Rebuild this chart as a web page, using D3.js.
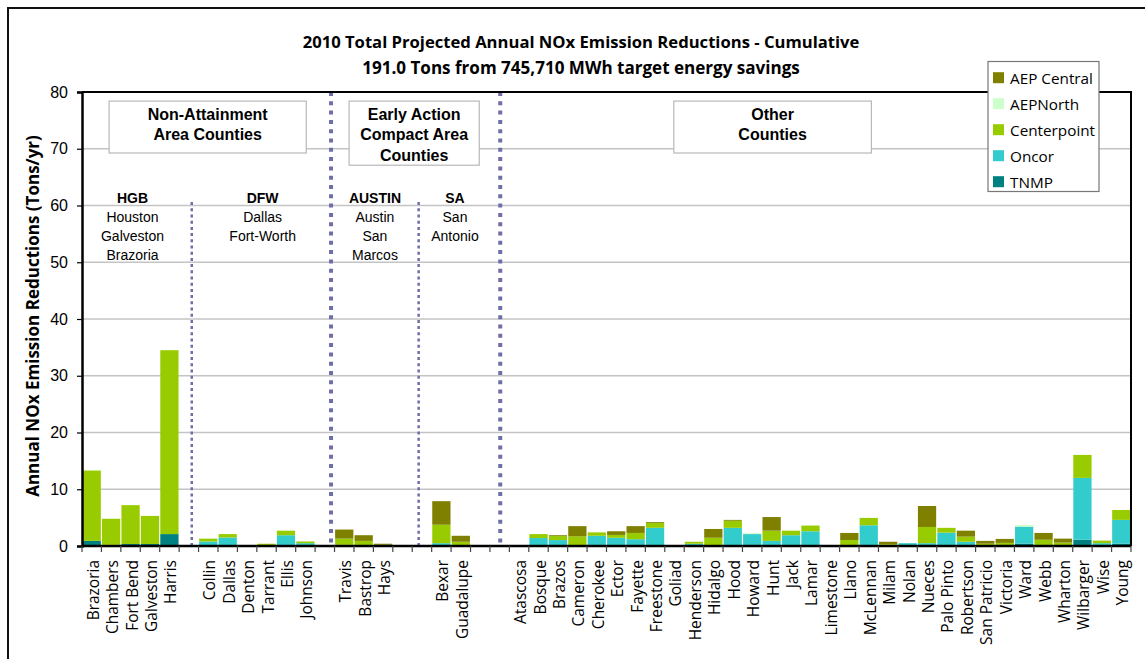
<!DOCTYPE html>
<html><head><meta charset="utf-8">
<script src="https://cdn.jsdelivr.net/npm/d3@7"></script>
<style>body{margin:0;background:#fff}svg{display:block}</style>
</head><body>
<svg id="c" width="1145" height="659"></svg>
<script>
// ---------- DATA ----------
const categories = ["Brazoria","Chambers","Fort Bend","Galveston","Harris","",
  "Collin","Dallas","Denton","Tarrant","Ellis","Johnson","",
  "Travis","Bastrop","Hays","","",
  "Bexar","Guadalupe","","",
  "Atascosa","Bosque","Brazos","Cameron","Cherokee","Ector","Fayette","Freestone","Goliad","Henderson",
  "Hidalgo","Hood","Howard","Hunt","Jack","Lamar","Limestone","Llano","McLennan","Milam",
  "Nolan","Nueces","Palo Pinto","Robertson","San Patricio","Victoria","Ward","Webb","Wharton","Wilbarger",
  "Wise","Young"];
const seriesNames = ["TNMP","Oncor","Centerpoint","AEPNorth","AEP Central"];
const legendOrder = ["AEP Central","AEPNorth","Centerpoint","Oncor","TNMP"];
const seriesColors = {"AEP Central":"#808000","AEPNorth":"#ccffcc","Centerpoint":"#99cc00","Oncor":"#33cccc","TNMP":"#008080"};

const tnmp = [0.9,0.2,0.35,0.35,2.1,0, 0,0,0,0,0,0,0, 0,0,0,0,0, 0,0,0,0,
  0,0,0,0,0,0,0,0,0,0, 0,0,0,0,0,0,0,0,0,0, 0,0,0,0,0,0,0.4,0,0,1.1, 0,0.4];
const oncor = [0,0,0,0,0,0, 0.8,1.5,0.1,0.1,1.9,0.5,0, 0.2,0,0,0,0, 0.5,0,0,0,
  0,1.4,1.05,0.1,1.8,1.45,1.2,3.2,0,0.4, 0.05,3.2,2.1,0.9,1.9,2.6,0,0.1,3.65,0,
  0.5,0.5,2.35,0.75,0,0,3.0,0.1,0,10.9, 0.5,4.2];
const centerpoint = [12.4,4.6,6.85,4.95,32.4,0, 0.5,0.6,0,0.3,0.8,0.3,0, 1.1,0.9,0.2,0,0, 3.25,0.75,0,0,
  0,0.7,0.7,1.6,0.6,0.5,1.1,0.85,0,0.35, 1.4,1.25,0,1.8,0.8,1.0,0,0.95,1.3,0.3,
  0,2.85,0.85,0.9,0.4,0.55,0,1.0,0.6,4.05, 0.45,1.75];
const aepNorth = [0,0,0,0,0,0, 0,0,0,0,0,0,0, 0,0,0,0,0, 0,0,0,0,
  0,0,0,0,0,0,0,0,0,0, 0,0,0.15,0,0,0,0,0,0,0, 0,0,0,0,0,0,0.3,0,0,0, 0,0];
const aepCentral = [0,0,0,0,0,0, 0,0,0,0,0,0,0, 1.6,1.0,0.2,0,0, 4.15,1.05,0,0,
  0,0,0.15,1.8,0,0.65,1.2,0.15,0,0, 1.55,0.15,0,2.4,0,0,0,1.25,0,0.45,
  0,3.7,0,1.05,0.5,0.7,0,1.2,0.7,0, 0,0];
const yTicks = [0,10,20,30,40,50,60,70,80];
const titleLines = ["2010 Total Projected Annual NOx Emission Reductions - Cumulative",
                    "191.0 Tons from 745,710 MWh target energy savings"];
const yTitle = "Annual NOx Emission Reductions (Tons/yr)";

// annotation content (positions in category units / value units)
const groupBoxes = [
  {lines:["Non-Attainment","Area Counties"], cx:6.47, w:10.15, top:78.4, bottom:69.25},
  {lines:["Early Action","Compact Area","Counties"], cx:17.1, w:6.7, top:78.4, bottom:67.1},
  {lines:["Other","Counties"], cx:35.55, w:10.17, top:78.4, bottom:69.25}
];
const regions = [
  {head:"HGB", lines:["Houston","Galveston","Brazoria"], cx:2.6},
  {head:"DFW", lines:["Dallas","Fort-Worth"], cx:9.3},
  {head:"AUSTIN", lines:["Austin","San","Marcos"], cx:15.08},
  {head:"SA", lines:["San","Antonio"], cx:19.2}
];
const dividers = [
  {pos:5.65, major:false}, {pos:12.82, major:true}, {pos:17.33, major:false}, {pos:21.53, major:true}
];

// ---------- CHART ----------
const svg = d3.select("#c");
const M = {l:82, t:92, r:1131, b:546};
const CAL = "'Open Sans', 'Noto Sans', sans-serif";
const ARI = "'Liberation Sans', Arial, sans-serif";

const y = d3.scaleLinear().domain([0,80]).range([M.b, M.t]);
const x = d3.scaleBand().domain(d3.range(categories.length)).range([M.l, M.r])
  .paddingInner(0.06).paddingOuter(0.03);
const step = x.step();
const xc = p => M.l + p*step;

function fit(sel, target){
  const w = sel.node().getComputedTextLength();
  const fs = parseFloat(sel.attr("font-size"));
  sel.attr("font-size", fs*target/w);
  return fs*target/w;
}

// outer frame
svg.append("rect").attr("x",8).attr("y",8).attr("width",1300).attr("height",800)
  .attr("fill","none").attr("stroke","#111").attr("stroke-width",2);

// gridlines
svg.append("g").selectAll("line").data(yTicks.filter(d=>d>0 && d<80)).join("line")
  .attr("x1",M.l).attr("x2",M.r).attr("y1",d=>y(d)).attr("y2",d=>y(d))
  .attr("stroke","#c4c4c4").attr("stroke-width",1.5);

// bars
const rows = categories.map((c,i)=>({i, "TNMP":tnmp[i], "Oncor":oncor[i], "Centerpoint":centerpoint[i],
  "AEPNorth":aepNorth[i], "AEP Central":aepCentral[i]}));
const stacked = d3.stack().keys(seriesNames)(rows);
svg.append("g").selectAll("g").data(stacked).join("g")
  .attr("fill", s=>seriesColors[s.key])
  .selectAll("rect").data(s=>s.filter(d=>d[1]-d[0]>0)).join("rect")
  .attr("x", d=>x(d.data.i)).attr("width", x.bandwidth())
  .attr("y", d=>y(d[1])).attr("height", d=>y(d[0])-y(d[1]));

// dividers
svg.append("g").selectAll("line").data(dividers).join("line")
  .attr("x1",d=>xc(d.pos)).attr("x2",d=>xc(d.pos))
  .attr("y1",d=>d.major? y(80): y(60.6)).attr("y2",y(0))
  .attr("stroke","#6e6ea8")
  .attr("stroke-width",d=>d.major?4:2.5)
  .attr("stroke-dasharray",d=>d.major?"4,5.3":"3,3.2");

// group boxes
const gb = svg.append("g").selectAll("g").data(groupBoxes).join("g");
gb.append("rect").attr("x",d=>xc(d.cx-d.w/2)).attr("width",d=>d.w*step)
  .attr("y",d=>y(d.top)).attr("height",d=>y(d.bottom)-y(d.top))
  .attr("fill","#fff").attr("stroke","#b8b8b8").attr("stroke-width",1.2);
gb.each(function(d){
  const g=d3.select(this);
  d.lines.forEach((t,k)=>{
    g.append("text").attr("x",xc(d.cx)).attr("y",y(d.top)+13+k*20.8)
      .attr("text-anchor","middle").attr("dominant-baseline","central")
      .attr("font-family",ARI).attr("font-weight","bold").attr("font-size",16).attr("fill","#000").text(t);
  });
});

// region labels
const rg = svg.append("g").selectAll("g").data(regions).join("g");
rg.each(function(d){
  const g=d3.select(this);
  g.append("text").attr("x",xc(d.cx)).attr("y",y(61.3)).attr("text-anchor","middle")
    .attr("dominant-baseline","central").attr("font-family",ARI).attr("font-weight","bold")
    .attr("font-size",14).text(d.head);
  d.lines.forEach((t,k)=>{
    g.append("text").attr("x",xc(d.cx)).attr("y",y(58.0-k*3.35)).attr("text-anchor","middle")
      .attr("dominant-baseline","central").attr("font-family",ARI).attr("font-size",14).text(t);
  });
});

// plot border (top/right)
svg.append("path").attr("d",`M${M.l},${M.t}H${M.r}V${M.b}`).attr("fill","none")
  .attr("stroke","#000").attr("stroke-width",2);

// y axis
const ya = svg.append("g").attr("transform",`translate(${M.l},0)`)
  .call(d3.axisLeft(y).tickValues(yTicks).tickSize(5).tickPadding(9));
ya.select(".domain").attr("stroke","#000").attr("stroke-width",2.5);
ya.selectAll(".tick line").attr("stroke","#000").attr("stroke-width",1.2);
ya.selectAll(".tick text").attr("font-family",ARI).attr("font-size",16).attr("fill","#000");

// x axis
svg.append("line").attr("x1",M.l).attr("x2",M.r).attr("y1",M.b).attr("y2",M.b)
  .attr("stroke","#000").attr("stroke-width",2.5);
svg.append("g").selectAll("line").data(d3.range(categories.length+1)).join("line")
  .attr("x1",d=>xc(d)).attr("x2",d=>xc(d)).attr("y1",M.b).attr("y2",M.b+6)
  .attr("stroke","#444").attr("stroke-width",1.2);
const xl = svg.append("g").selectAll("text").data(categories.map((c,i)=>({c,i})).filter(d=>d.c)).join("text")
  .attr("transform",d=>`translate(${x(d.i)+x.bandwidth()/2+1},560) rotate(-90)`)
  .attr("text-anchor","end").attr("dominant-baseline","central")
  .attr("font-family",CAL).attr("font-size",14).attr("fill","#000").text(d=>d.c);
{
  const ref = xl.filter(d=>d.c==="San Patricio");
  const fs = fit(ref, 85);
  xl.attr("font-size", fs);
}

// y title
const yt = svg.append("text").attr("transform","translate(32,316) rotate(-90)")
  .attr("text-anchor","middle").attr("dominant-baseline","central")
  .attr("font-family",CAL).attr("font-weight","bold").attr("font-size",17).text(yTitle);
fit(yt, 362);

// title
titleLines.forEach((t,k)=>{
  const tt = svg.append("text").attr("x",581).attr("y",[41,67][k]).attr("text-anchor","middle")
    .attr("dominant-baseline","central").attr("font-family",CAL).attr("font-weight","bold")
    .attr("font-size",16).text(t);
  fit(tt, k===0?557:438);
});

// legend
const lg = svg.append("g");
lg.append("rect").attr("x",988).attr("y",61.5).attr("width",111).attr("height",130)
  .attr("fill","#fff").attr("stroke","#777").attr("stroke-width",1.2);
const li = lg.selectAll("g.it").data(legendOrder).join("g").attr("class","it")
  .attr("transform",(d,k)=>`translate(993,${77.7+k*26})`);
li.append("rect").attr("x",0).attr("y",-5.5).attr("width",11).attr("height",11).attr("fill",d=>seriesColors[d]);
const lt = li.append("text").attr("x",17).attr("y",0).attr("dominant-baseline","central")
  .attr("font-family",CAL).attr("font-size",15).text(d=>d);
{
  const fs = fit(lt.filter(d=>d==="AEP Central"), 83);
  lt.attr("font-size", fs);
}
</script>
</body></html>
